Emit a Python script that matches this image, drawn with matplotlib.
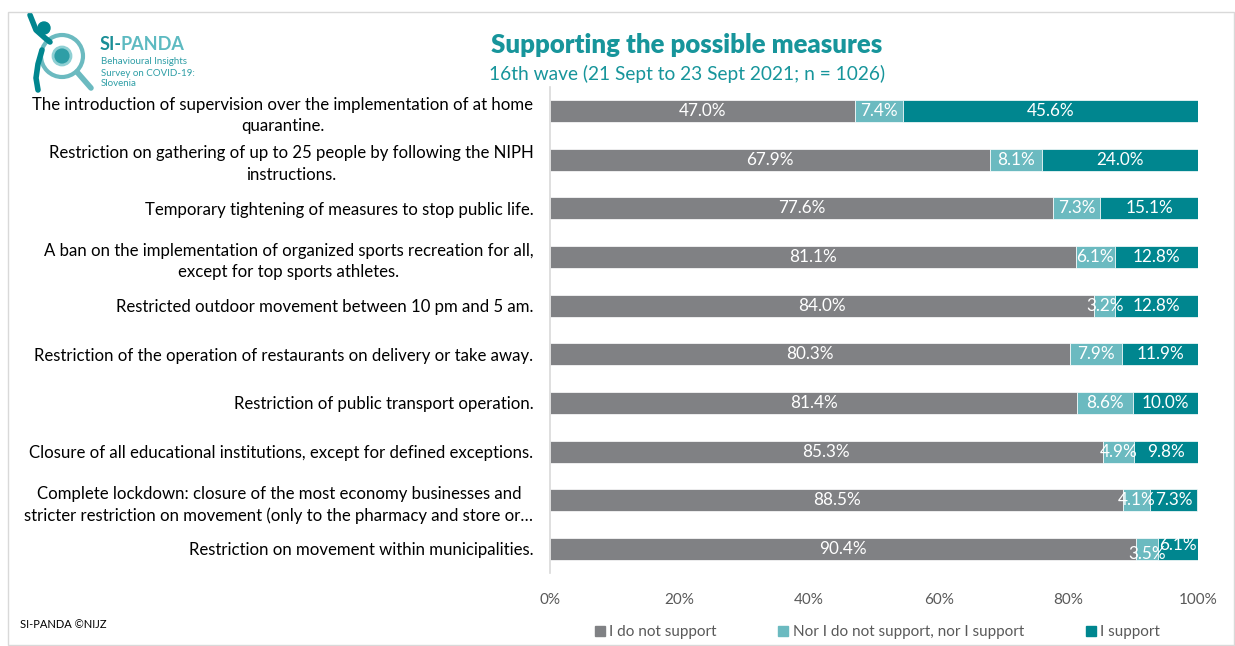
import matplotlib.pyplot as plt
from matplotlib.patches import Circle, Rectangle
from matplotlib.lines import Line2D

plt.rcParams['font.family'] = ['Lato', 'DejaVu Sans']

categories = [
    "The introduction of supervision over the implementation of at home\nquarantine.",
    "Restriction on gathering of up to 25 people by following the NIPH\ninstructions.",
    "Temporary tightening of measures to stop public life.",
    "A ban on the implementation of organized sports recreation for all,\nexcept for top sports athletes.",
    "Restricted outdoor movement between 10 pm and 5 am.",
    "Restriction of the operation of restaurants on delivery or take away.",
    "Restriction of public transport operation.",
    "Closure of all educational institutions, except for defined exceptions.",
    "Complete lockdown: closure of the most economy businesses and\nstricter restriction on movement (only to the pharmacy and store or\u2026",
    "Restriction on movement within municipalities.",
]
not_support = [47.0, 67.9, 77.6, 81.1, 84.0, 80.3, 81.4, 85.3, 88.5, 90.4]
neutral = [7.4, 8.1, 7.3, 6.1, 3.2, 7.9, 8.6, 4.9, 4.1, 3.5]
support = [45.6, 24.0, 15.1, 12.8, 12.8, 11.9, 10.0, 9.8, 7.3, 6.1]
series_names = ["I do not support", "Nor I do not support, nor I support", "I support"]
xticks = [0, 20, 40, 60, 80, 100]

colors = ["#808184", "#6BBAC0", "#00868F"]
text_gray = "#595959"
title_color = "#17959B"

fig = plt.figure(figsize=(12.35, 6.46), dpi=100)
W, H = 1235, 646

# outer frame
fig.add_artist(Rectangle((8 / W, 1 / H), 1226 / W, (H - 12 - 1) / H,
                         transform=fig.transFigure, fill=False,
                         edgecolor="#D9D9D9", linewidth=1.0))

ax = fig.add_axes([550 / W, 1 - 573.3 / H, (1198 - 550) / W, (573.3 - 86.7) / H])

ypos = list(range(len(categories)))
series = [not_support, neutral, support]
left = [0.0] * len(categories)
for vals, col, name in zip(series, colors, series_names):
    ax.barh(ypos, vals, left=left, height=0.45, color=col,
            edgecolor="white", linewidth=0.5, label=name)
    for i, (l, v) in enumerate(zip(left, vals)):
        dy = 0.0
        if i == len(categories) - 1 and name == series_names[1]:
            dy = 0.1
        if i == len(categories) - 1 and name == series_names[2]:
            dy = -0.08
        ax.text(l + v / 2, i + dy, f"{v:.1f}%", ha="center", va="center",
                color="white", fontsize=12.3)
    left = [a + b for a, b in zip(left, vals)]

ax.set_xlim(0, 100)
ax.set_ylim(len(categories) - 0.5, -0.5)
ax.set_yticks(ypos)
ax.set_yticklabels(categories, fontsize=12.1, color="black", multialignment="center",
                   linespacing=1.45)
ax.set_xticks(xticks)
ax.set_xticklabels([f"{t}%" for t in xticks], fontsize=11, color=text_gray)
ax.tick_params(axis="both", length=0)
ax.tick_params(axis="y", pad=12)
ax.tick_params(axis="x", pad=14)
for s in ["top", "right", "bottom"]:
    ax.spines[s].set_visible(False)
ax.spines["left"].set_color("#D9D9D9")
ax.spines["left"].set_linewidth(1.2)

# titles
fig.text(687 / W, 1 - 45 / H, "Supporting the possible measures", ha="center", va="center",
         fontsize=18.5, fontweight="heavy", color=title_color)
fig.text(687 / W, 1 - 74 / H, "16th wave (21 Sept to 23 Sept 2021; n = 1026)", ha="center",
         va="center", fontsize=13.8, color=title_color)

# legend
handles = [Line2D([0], [0], marker="s", linestyle="none", markersize=7,
                  markerfacecolor=c, markeredgecolor=c) for c in colors]
fig.legend(handles, series_names, loc="center", bbox_to_anchor=(876 / W, 1 - 632 / H),
           ncol=3, frameon=False, fontsize=11, labelcolor=text_gray,
           handletextpad=0.1, columnspacing=3.9, handlelength=1.0)

fig.text(20 / W, 1 - 624 / H, "SI-PANDA \u00a9NIJZ", ha="left", va="center",
         fontsize=8, color="black")

# logo
lax = fig.add_axes([0, 1 - 95 / H, 200 / W, 95 / H])
lax.set_xlim(0, 200)
lax.set_ylim(95, 0)
lax.set_aspect("equal")
lax.axis("off")
lax.add_patch(Circle((62, 56), 21, fill=False, edgecolor="#6BBAC0", linewidth=3))
lax.add_patch(Circle((62, 56), 9, facecolor="#2E9EA6", edgecolor="#8FD0D4", linewidth=2))
lax.plot([77, 91], [72, 88], color="#6BBAC0", linewidth=4, solid_capstyle="round")
lax.add_patch(Circle((44, 28), 6, color="#00868F"))
lax.plot([30, 36, 45, 50], [15, 30, 38, 42], color="#00868F", linewidth=4, solid_capstyle="round")
lax.plot([42, 38, 36, 38], [50, 64, 78, 90], color="#00868F", linewidth=4, solid_capstyle="round")
t_si = lax.text(100, 45, "SI-", fontsize=13, fontweight="bold", color="#1A8F97", va="center")
lax.annotate("PANDA", xy=(1, 0.5), xycoords=t_si, xytext=(-1.2, 0), textcoords="offset points",
             va="center", ha="left", fontsize=13, fontweight="bold", color="#5DBAC1")
for k, line in enumerate(["Behavioural Insights", "Survey on COVID-19:", "Slovenia"]):
    lax.text(101, 62 + 11 * k, line, fontsize=7, color="#2E9EA6", va="center")

fig.savefig("out.png", dpi=100)
